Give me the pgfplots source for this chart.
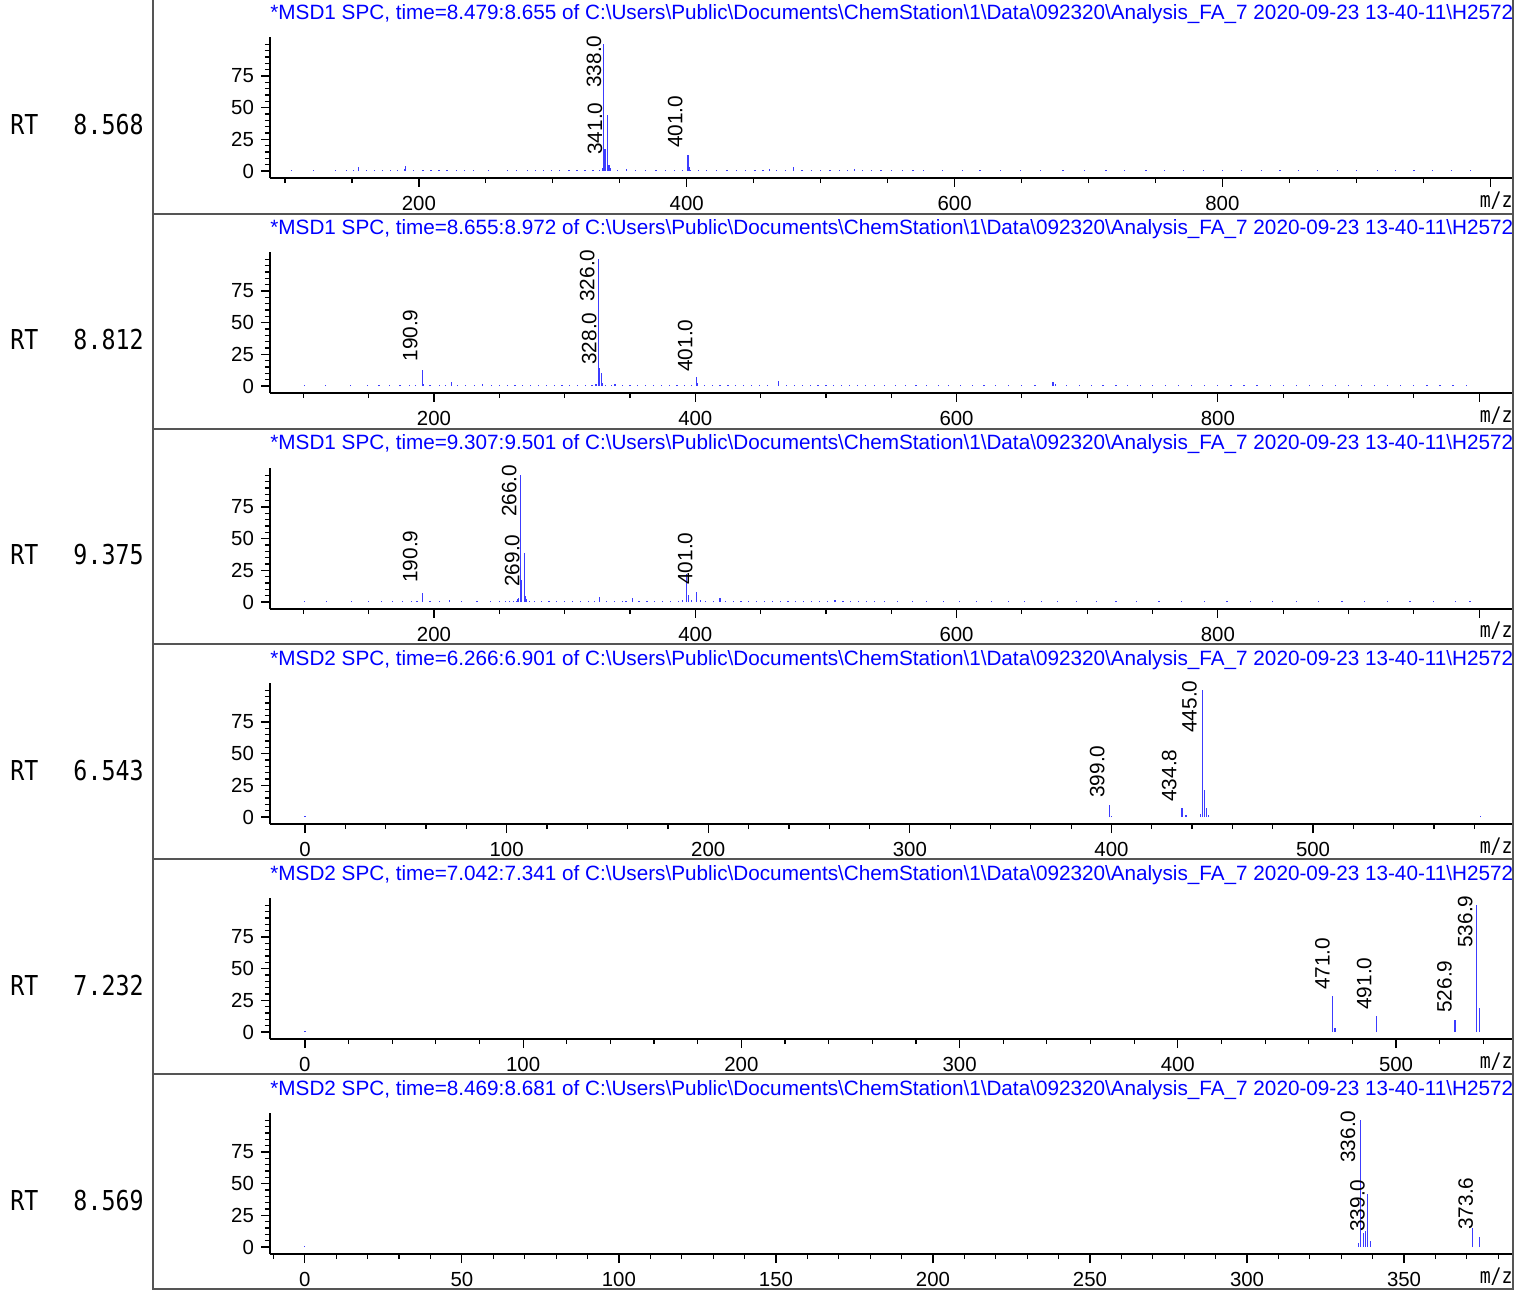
\documentclass[border=0pt]{standalone}
\usepackage{pgfplots}
\pgfplotsset{compat=1.18}
\usepackage{fontspec}
\setmainfont{Liberation Sans}
\newfontfamily\monof[FakeStretch=0.85]{DejaVu Sans Mono}
\definecolor{spec}{RGB}{60,60,255}
\definecolor{frm}{RGB}{85,85,85}
\definecolor{ttl}{RGB}{0,0,255}
\pgfplotsset{
  ms/.style={
    scale only axis, width=621.5pt, height=70.5pt, anchor=south west,
    axis x line*=bottom, axis y line*=left,
    axis line style={-, black, line width=0.7pt},
    ymin=-5.5, ymax=105.8,
    ytick={0,25,50,75},
    minor ytick={5,10,...,100},
    tick align=outside,
    major tick length=4.5pt, minor tick length=2.6pt,
    tick style={black, line width=0.6pt},
    tick label style={font=\fontsize{10.2}{12}\selectfont},
    xticklabel style={yshift=-1pt},
    /pgf/number format/assume math mode=true,
    clip=false,
  },
  pk/.style={ycomb, color=spec, line width=0.6pt},
}
\tikzset{lab/.style={rotate=90, anchor=south west, inner sep=0pt, font=\fontsize{10.4}{12}\selectfont}}
\begin{document}
\begin{tikzpicture}
\useasboundingbox (0,0) rectangle (759.5pt,646pt);
% ---------- panel 1
\begin{axis}[ms, at={(135pt,557pt)}, xmin=88.8, xmax=1017,
  xtick={200,400,600,800,1000}, xticklabels={200,400,600,800,{}},
  minor xtick={100,150,...,1000}]
\addplot[pk] coordinates {(105,0.8)(121,0.8)(138,0.8)(146,0.8)(151,0.9)(155,3.4)(161,0.8)(167,0.9)(173,0.8)(179,1.0)(184,0.8)(189,1.6)(190,4.0)(196,0.9)(203,0.8)(209,0.9)(215,0.8)(221,1.0)(228,0.8)(234,0.9)(241,0.8)(252,0.8)(266,0.9)(273,0.8)(281,0.9)(287,0.8)(293,0.8)(299,0.9)(305,0.8)(312,0.9)(318,0.8)(324,1.0)(330,0.8)(335,1.2)(337,2.5)(338,100)(339,17)(341,44)(342,5)(343,2)(348,0.9)(355,1.5)(362,0.8)(369,0.9)(377,1.2)(384,0.9)(391,0.8)(397,1.0)(401,12.6)(402,3)(403,1.2)(409,0.9)(415,0.8)(422,1.0)(430,0.8)(437,0.9)(444,1.0)(451,1.2)(457,0.9)(462,1.8)(467,1.0)(474,0.9)(480,2.8)(486,1.0)(493,0.8)(500,0.9)(507,0.8)(514,1.0)(520,0.8)(525,1.8)(531,0.8)(538,0.9)(545,0.8)(553,0.9)(561,0.8)(569,0.8)(577,0.9)(591,0.8)(606,0.8)(619,0.9)(634,0.8)(649,0.8)(664,0.9)(681,0.8)(697,0.8)(713,0.9)(727,0.8)(743,0.8)(757,0.9)(771,0.8)(786,0.8)(800,0.9)(814,0.8)(829,0.8)(843,0.9)(857,0.8)(871,0.8)(886,0.9)(900,0.8)(916,0.8)(929,0.9)(943,0.8)(957,0.8)(971,0.9)(985,0.8)};
\node[lab] at (axis cs:336.6,65.5) {338.0};
\node[lab] at (axis cs:337.3,12.6) {341.0};
\node[lab] at (axis cs:397.2,17.9) {401.0};
\end{axis}
% ---------- panel 2
\begin{axis}[ms, at={(135pt,449.5pt)}, xmin=74.5, xmax=1025.9,
  xtick={200,400,600,800,1000}, xticklabels={200,400,600,800,{}},
  minor xtick={100,150,...,1000}]
\addplot[pk] coordinates {(101,0.8)(117,0.8)(136,0.8)(149,0.8)(158,0.9)(166,0.8)(174,0.8)(181,0.9)(186,0.8)(191,12.6)(192,1.5)(197,0.8)(204,0.9)(209,0.8)(213.5,3)(218,0.9)(224,0.8)(231,0.8)(237,1.5)(244,0.8)(250,0.9)(256,0.8)(262,0.9)(268,0.8)(274,0.9)(280,0.8)(286,0.9)(292,0.8)(298,0.9)(304,0.8)(310,0.9)(316,1.0)(321,0.9)(324,1.5)(326,100)(327,14)(328,10.5)(329,2)(331,1.0)(336,0.9)(338.5,1.6)(344,0.9)(350,1.0)(356,0.9)(362,0.8)(368,0.9)(374,0.8)(380,0.9)(386,0.8)(392,0.9)(397,1.0)(401,6.9)(402,2)(407,0.9)(413,0.8)(419,0.9)(425,0.8)(431,0.9)(437,0.8)(443,0.9)(449,0.8)(455,0.9)(464,4)(470,0.9)(476,0.8)(482,0.9)(488,0.8)(494,0.9)(500,0.8)(506,0.9)(512,0.8)(518,0.9)(524,0.8)(530,0.9)(537,0.8)(545,0.9)(553,0.8)(561,0.8)(569,0.9)(577,0.8)(586,0.8)(594,0.9)(603,0.8)(612,0.8)(621,0.9)(630,0.8)(640,0.8)(650,0.9)(660,0.8)(673.8,3.2)(676,1.5)(684,0.8)(694,0.9)(703,0.8)(712,0.8)(722,0.9)(731,0.8)(741,0.8)(750,0.9)(760,0.8)(770,0.8)(780,0.9)(790,0.8)(800,0.8)(810,0.9)(820,0.8)(830,0.8)(840,0.9)(850,0.8)(860,0.8)(870,0.9)(880,0.8)(890,0.8)(900,0.9)(910,0.8)(920,0.8)(930,0.9)(940,0.8)(950,0.8)(960,0.9)(970,0.8)(980,0.8)(990,0.9)};
\node[lab] at (axis cs:187.8,19) {190.9};
\node[lab] at (axis cs:323.2,66.3) {326.0};
\node[lab] at (axis cs:324.8,16.6) {328.0};
\node[lab] at (axis cs:398.2,11) {401.0};
\end{axis}
% ---------- panel 3
\begin{axis}[ms, at={(135pt,341.5pt)}, xmin=74.5, xmax=1025.9,
  xtick={200,400,600,800,1000}, xticklabels={200,400,600,800,{}},
  minor xtick={100,150,...,1000}]
\addplot[pk] coordinates {(101,0.8)(118,0.8)(137,0.8)(150,0.8)(160,0.9)(168,0.8)(176,0.8)(183,0.9)(187,0.8)(191,6.8)(197,0.8)(204,0.9)(212,1.5)(221,0.8)(233,0.8)(243,0.8)(250,0.9)(255,0.8)(258,0.9)(261,1.0)(263,1.2)(264,2)(265,3)(266,100)(267,17)(269,39)(270,5)(271,2)(273,1.2)(277,0.9)(282,0.8)(288,0.9)(294,0.8)(300,0.9)(306,0.8)(312,0.9)(318,0.8)(323,0.9)(327,3.7)(332,0.9)(338,0.8)(344,0.9)(347,0.8)(352,3.5)(357,0.9)(363,0.8)(369,0.9)(375,0.8)(381,0.9)(387,1.0)(390,1.8)(393,22)(395,5.5)(397,1.5)(401,8)(404,1.5)(408,0.9)(414,0.8)(419,3)(423,1.0)(429,0.8)(435,0.9)(441,0.8)(447,0.9)(453,0.8)(459,0.9)(465,0.8)(471,0.9)(477,0.8)(483,0.9)(489,0.8)(495,0.9)(501,0.8)(507,1.5)(513,0.8)(519,0.9)(525,0.8)(531,0.9)(537,0.8)(545,0.8)(555,0.9)(566,0.8)(577,0.8)(590,0.9)(602,0.8)(615,0.8)(627,0.9)(640,0.8)(652,0.8)(665,0.9)(677,0.8)(692,0.8)(707,0.9)(722,0.8)(738,0.8)(755,0.9)(772,0.8)(790,0.8)(807,0.9)(825,0.8)(842,0.8)(860,0.9)(877,0.8)(895,0.8)(912,0.9)(930,0.8)(947,0.8)(965,0.9)(982,0.8)(993,0.8)};
\node[lab] at (axis cs:187.8,15) {190.9};
\node[lab] at (axis cs:263.5,67) {266.0};
\node[lab] at (axis cs:265.8,11.8) {269.0};
\node[lab] at (axis cs:398.2,13.4) {401.0};
\end{axis}
% ---------- panel 4
\begin{axis}[ms, at={(135pt,234pt)}, xmin=-17.4, xmax=599.2,
  xtick={0,100,...,500}, xticklabels={0,100,200,300,400,500},
  minor xtick={20,40,...,580}]
\addplot[pk] coordinates {(0,1)(399,9.5)(400,1.2)(435,6.9)(437,1.5)(444,2.5)(445,100)(446,21)(447,7)(448,2)(583,1)};
\node[lab] at (axis cs:396.8,15) {399.0};
\node[lab] at (axis cs:432.5,11.8) {434.8};
\node[lab] at (axis cs:442.5,66.3) {445.0};
\end{axis}
% ---------- panel 5
\begin{axis}[ms, at={(135pt,126.5pt)}, xmin=-16, xmax=553.6,
  xtick={0,100,...,500}, xticklabels={0,100,200,300,400,500},
  minor xtick={20,40,...,540}]
\addplot[pk] coordinates {(0,1)(471,28.4)(472,3)(491,12.6)(527,9.5)(537,100)(538.2,18.7)};
\node[lab] at (axis cs:469.8,33) {471.0};
\node[lab] at (axis cs:489,17.4) {491.0};
\node[lab] at (axis cs:525.7,15) {526.9};
\node[lab] at (axis cs:535.3,66.3) {536.9};
\end{axis}
% ---------- panel 6
\begin{axis}[ms, at={(135pt,19pt)}, xmin=-11.1, xmax=384.7,
  xtick={0,50,...,350}, xticklabels={0,50,100,150,200,250,300,350},
  minor xtick={-10,0,...,380}]
\addplot[pk] coordinates {(0,1)(335.6,3)(336.2,100)(337,11)(337.7,13)(338.3,42)(339.4,5)(371.9,14.7)(374,8)};
\node[lab] at (axis cs:334.6,66.3) {336.0};
\node[lab] at (axis cs:337.6,11.8) {339.0};
\node[lab] at (axis cs:372.1,13.4) {373.6};
\end{axis}
% ---------- titles, side labels, frame (pixel coordinates, origin top-left)
\begin{scope}[x=0.5pt, y=-0.5pt, shift={(0pt,646pt)}]
  \foreach \i/\t in {0/{*MSD1 SPC, time=8.479:8.655},1/{*MSD1 SPC, time=8.655:8.972},2/{*MSD1 SPC, time=9.307:9.501},3/{*MSD2 SPC, time=6.266:6.901},4/{*MSD2 SPC, time=7.042:7.341},5/{*MSD2 SPC, time=8.469:8.681}}
    \node[anchor=base west, inner sep=0pt, text=ttl, font=\fontsize{10.35}{12}\selectfont] at (270,{20+215*\i})
      {\t{} of C:\textbackslash Users\textbackslash Public\textbackslash Documents\textbackslash ChemStation\textbackslash 1\textbackslash Data\textbackslash 092320\textbackslash Analysis\_FA\_7 2020-09-23 13-40-11\textbackslash H2572};
  \foreach \i/\r in {0/8.568,1/8.812,2/9.375,3/6.543,4/7.232,5/8.569} {
    \node[anchor=base west, inner sep=0pt, font=\monof\fontsize{13.7}{16}\selectfont] at (10,{135+215*\i}) {RT};
    \node[anchor=base east, inner sep=0pt, font=\monof\fontsize{13.7}{16}\selectfont] at (144,{135+215*\i}) {\r};
    \node[anchor=base east, inner sep=0pt, font=\monof\fontsize{10.7}{12}\selectfont] at (1513,{208+215*\i}) {m/z};
  }
  \draw[frm, line width=1pt] (153,0) -- (153,1289) -- (1513,1289) -- (1513,0);
  \foreach \yy in {214,429,644,859,1074}
    \draw[frm, line width=1pt] (153,\yy) -- (1513,\yy);
\end{scope}
\end{tikzpicture}
\end{document}
